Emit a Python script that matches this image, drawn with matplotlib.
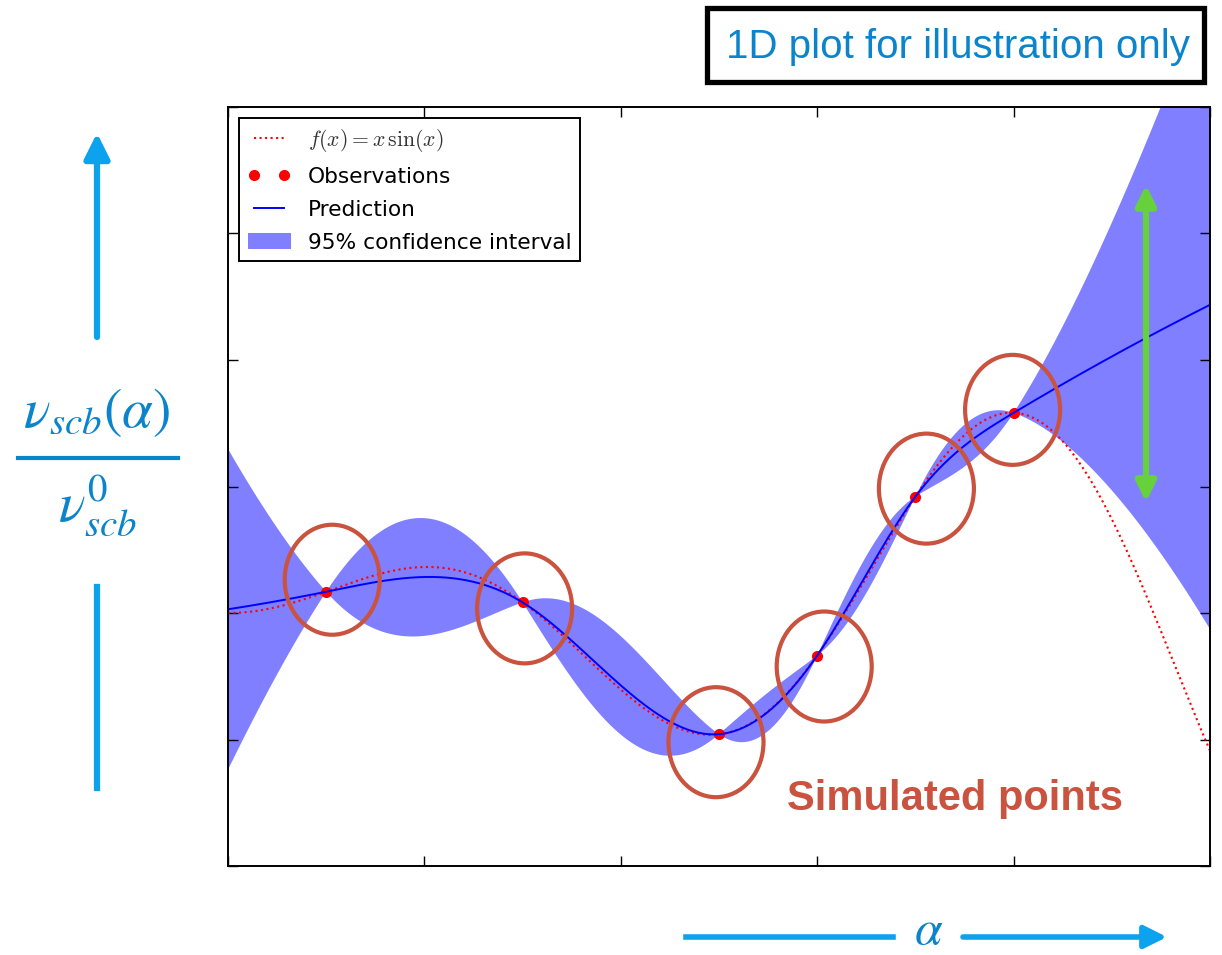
import numpy as np
import matplotlib
matplotlib.use("Agg")
import matplotlib.pyplot as plt
from matplotlib.patches import Ellipse, Rectangle
from matplotlib.lines import Line2D

# --- data -------------------------------------------------------------------
X_OBS = np.array([1.0, 3.0, 5.0, 6.0, 7.0, 8.0])
Y_OBS = np.array([0.84, 0.42, -4.79, -1.68, 4.60, 7.91])
X_RANGE = (0.0, 10.0)
Y_RANGE = (-10.0, 20.0)
X_TICKS = [0, 2, 4, 6, 8, 10]
Y_TICKS = [-10, -5, 0, 5, 10, 15, 20]

# --- colours ----------------------------------------------------------------
ARROW_BLUE = "#0ca2ee"
TEXT_BLUE = "#0b84cc"
RUST = "#c9533f"
GREEN = "#66d13a"

W, H = 1222, 955


def f(x):
    return x * np.sin(x)


def cubic_corr(theta, d):
    td = np.minimum(theta * np.abs(d), 1.0)
    return 1.0 - td ** 2 * (3.0 - 2.0 * td)


def kriging(x_obs, y_obs, x_new, bounds=(1e-4, 1e-1)):
    """Ordinary kriging with a cubic correlation model, theta by max likelihood."""
    xm, xs = x_obs.mean(), x_obs.std()
    ym, ys = y_obs.mean(), y_obs.std()
    xn = (x_obs - xm) / xs
    yn = (y_obs - ym) / ys
    n = len(xn)
    D = xn[:, None] - xn[None, :]
    one = np.ones(n)
    nugget = 10 * np.finfo(float).eps

    def fit(theta):
        R = cubic_corr(theta, D) + nugget * np.eye(n)
        np.linalg.cholesky(R)
        Ri = np.linalg.inv(R)
        beta = one @ Ri @ yn / (one @ Ri @ one)
        res = yn - beta
        sigma2 = res @ Ri @ res / n
        rlf = -sigma2 * np.linalg.det(R) ** (1.0 / n)
        return rlf, Ri, beta, res, sigma2

    best = None
    for th in np.logspace(np.log10(bounds[0]), np.log10(bounds[1]), 400):
        try:
            out = fit(th)
        except np.linalg.LinAlgError:
            continue
        if best is None or out[0] > best[1][0]:
            best = (th, out)
    theta, (_, Ri, beta, res, sigma2) = best

    r = cubic_corr(theta, (x_new - xm)[:, None] / xs - xn[None, :])
    y_pred = beta + r @ Ri @ res
    u = r @ Ri @ one - 1.0
    mse = 1.0 - np.sum((r @ Ri) * r, axis=1) + u ** 2 / (one @ Ri @ one)
    mse = np.clip(mse, 0.0, None) * sigma2 * ys ** 2
    return ym + ys * y_pred, np.sqrt(mse)


def fig_xy(px, py):
    return px / W, 1.0 - py / H


x = np.linspace(X_RANGE[0], X_RANGE[1], 1000)
y_pred, sigma = kriging(X_OBS, Y_OBS, x)

fig = plt.figure(figsize=(W / 100, H / 100), dpi=100)
ax = fig.add_axes([228 / W, 1 - 866 / H, 982 / W, 759 / H])

ax.plot(x, f(x), "r:", lw=1.5, label=r"$f(x) = x\,\sin(x)$")
ax.plot(X_OBS, Y_OBS, "r.", markersize=14, label="Observations")
ax.plot(x, y_pred, "b-", lw=1.4, label="Prediction")
ax.fill(np.concatenate([x, x[::-1]]),
        np.concatenate([y_pred - 1.96 * sigma, (y_pred + 1.96 * sigma)[::-1]]),
        alpha=0.5, fc="b", ec="none", label="95% confidence interval")

ax.set_xlim(*X_RANGE)
ax.set_ylim(*Y_RANGE)
ax.set_xticks(X_TICKS)
ax.set_yticks(Y_TICKS)
ax.tick_params(direction="in", top=True, right=True, length=7, width=1,
               labelbottom=False, labelleft=False)
for sp in ax.spines.values():
    sp.set_linewidth(1.4)

leg = ax.legend(loc="upper left", fontsize=15.6, numpoints=2, fancybox=False,
                framealpha=1, edgecolor="black", borderaxespad=0.5,
                handlelength=2.0, labelspacing=0.6)
leg.get_frame().set_linewidth(1.4)
leg.get_texts()[0].set_math_fontfamily("cm")
leg.get_texts()[0].set_color("#333333")

# rings around the simulated points (nudges in pixels)
ring_nudge = [(6, -12), (2, 6), (-3, 8), (7, 11), (11, -8), (-1, -3)]
px_x = 982 / (X_RANGE[1] - X_RANGE[0])
px_y = 759 / (Y_RANGE[1] - Y_RANGE[0])
for (xo, yo), (dx, dy) in zip(zip(X_OBS, Y_OBS), ring_nudge):
    ax.add_patch(Ellipse((xo + dx / px_x, yo - dy / px_y), 95 / px_x, 110 / px_y,
                         fill=False, ec=RUST, lw=3.0, clip_on=False, zorder=6))

fig.text(*fig_xy(787, 810), "Simulated points", color=RUST, fontsize=30,
         fontweight="bold", family="Liberation Sans", ha="left", va="baseline")

# spread arrow at the right end
ax.annotate("", xy=fig_xy(1146, 185), xytext=fig_xy(1146, 502),
            xycoords="figure fraction", textcoords="figure fraction",
            arrowprops=dict(arrowstyle="<|-|>", color=GREEN, lw=4.5,
                            mutation_scale=30, shrinkA=0, shrinkB=0), zorder=7)

# note box
fig.patches.append(Rectangle(fig_xy(707, 82), 497 / W, 74 / H, transform=fig.transFigure,
                             fill=False, ec="black", lw=3.8))
fig.text(*fig_xy(958, 58), "1D plot for illustration only", color=TEXT_BLUE,
         fontsize=29, family="Liberation Sans", ha="center", va="baseline")

# y direction: arrow, fraction, line
ax.annotate("", xy=fig_xy(97, 133), xytext=fig_xy(97, 337),
            xycoords="figure fraction", textcoords="figure fraction",
            arrowprops=dict(arrowstyle="-|>", color=ARROW_BLUE, lw=4.5,
                            mutation_scale=38, shrinkA=0, shrinkB=0))
fig.add_artist(Line2D([97 / W, 97 / W], [1 - 587 / H, 1 - 788 / H],
                      color=ARROW_BLUE, lw=4.5, transform=fig.transFigure))
fig.text(*fig_xy(97, 412), r"$\nu_{scb}(\alpha)$", color=TEXT_BLUE, fontsize=40,
         math_fontfamily="stix", ha="center", va="center")
fig.add_artist(Line2D([18 / W, 178 / W], [1 - 458 / H, 1 - 458 / H],
                      color=TEXT_BLUE, lw=3, transform=fig.transFigure))
fig.text(*fig_xy(97, 505), r"$\nu^0_{scb}$", color=TEXT_BLUE, fontsize=40,
         math_fontfamily="stix", ha="center", va="center")

# x direction: line, alpha, arrow
fig.add_artist(Line2D([686 / W, 893 / W], [1 - 937 / H, 1 - 937 / H],
                      color=ARROW_BLUE, lw=4, transform=fig.transFigure))
ax.annotate("", xy=fig_xy(1167, 937), xytext=fig_xy(963, 937),
            xycoords="figure fraction", textcoords="figure fraction",
            arrowprops=dict(arrowstyle="-|>", color=ARROW_BLUE, lw=4,
                            mutation_scale=34, shrinkA=0, shrinkB=0))
fig.text(*fig_xy(929, 930), r"$\alpha$", color=TEXT_BLUE, fontsize=36,
         math_fontfamily="stix", ha="center", va="center")

fig.savefig("out.png", dpi=100)
